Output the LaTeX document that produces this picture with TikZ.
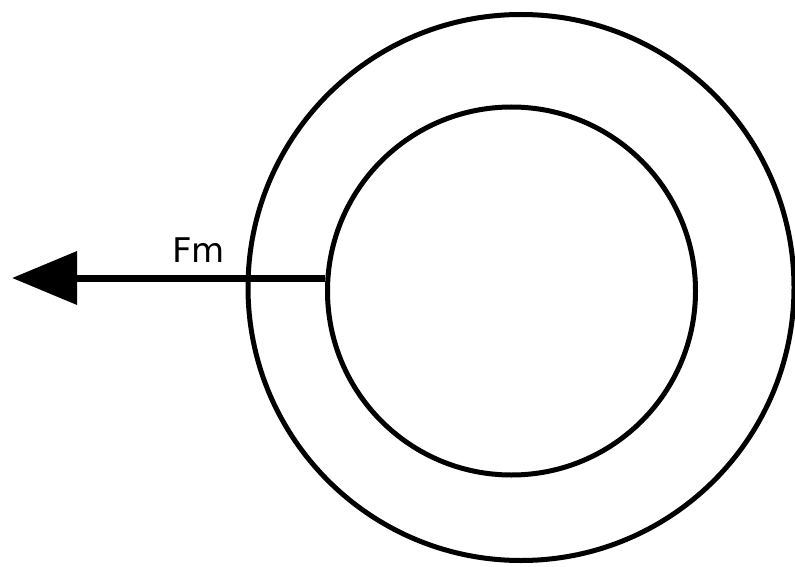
\documentclass[tikz,border=0pt]{standalone}
\usepackage{fontspec}
\setmainfont{DejaVu Sans}
\usetikzlibrary{arrows.meta}
\begin{document}
\begin{tikzpicture}[x=1pt,y=-1pt,
  ring/.style={draw=black,line width=5pt,circle,inner sep=0pt},
  force/.style={line width=7pt,-{Triangle[length=65pt,width=52pt]}}]
\useasboundingbox (0,0) rectangle (795,567);
\node[ring,minimum size=546pt] (outer) at (521,287.5) {};
\node[ring,minimum size=368pt] (inner) at (511.5,291) {};
\coordinate (tip) at (12,278);
\draw[force] (inner.west |- 0,278) -- (tip);
\node[font=\fontsize{34}{40}\selectfont,inner sep=0pt] (fm) at (198.5,250) {Fm};
\end{tikzpicture}
\end{document}
